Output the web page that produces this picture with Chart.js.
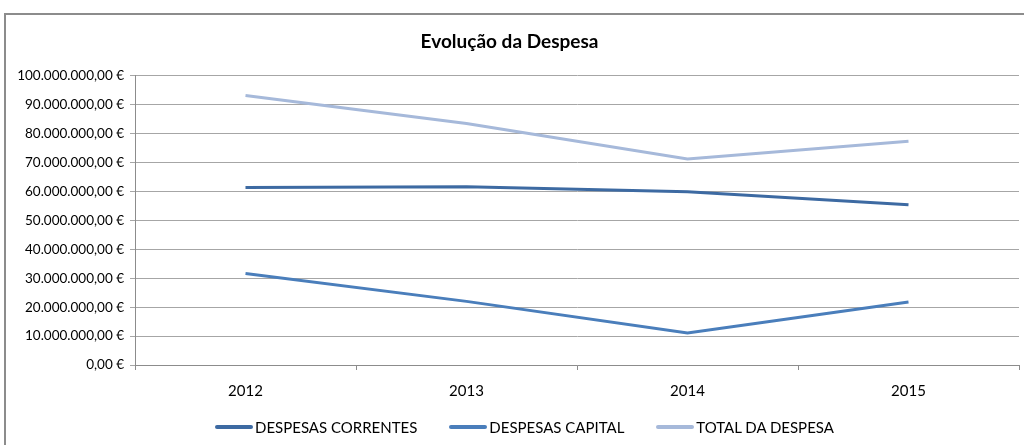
<!DOCTYPE html>
<html>
<head>
<meta charset="utf-8">
<script src="https://cdn.jsdelivr.net/npm/chart.js@4"></script>
<style>
    html, body { margin: 0; padding: 0; background: #fff; overflow: hidden; }
    #wrap { position: relative; width: 1024px; height: 445px; }
    #frame { position: absolute; left: 4px; top: 13px; width: 1030px; height: 440px;
             border: 2px solid #8c8c8c; pointer-events: none; }
    #legenda { position: absolute; left: 215px; top: 417px; height: 20px; display: flex; align-items: center;
               font-family: Lato, "Liberation Sans", sans-serif; font-size: 15px; color: #000; white-space: nowrap; }
    #legenda .item { display: flex; align-items: center; margin-right: 32px; }
    #legenda .linha { width: 38px; height: 4px; border-radius: 2px; margin-right: 2px; }
</style>
</head>
<body>
<div id="wrap">
    <canvas id="chartDespesa" width="1024" height="445"></canvas>
    <div id="frame"></div>
    <div id="legenda"></div>
</div>
<script>
    // Dados (euros)
    const anos = ['2012', '2013', '2014', '2015'];
    const despesasCorrentes = [61400000, 61600000, 59900000, 55400000];
    const despesasCapital = [31600000, 22000000, 11100000, 21800000];
    const totalDespesa = [93200000, 83500000, 71200000, 77400000];
    const yTicks = [0, 10000000, 20000000, 30000000, 40000000, 50000000, 60000000, 70000000, 80000000, 90000000, 100000000];

    const FONT = 'Lato, "Liberation Sans", sans-serif';

    function euro(v) {
        const s = Math.round(v).toString().replace(/\B(?=(\d{3})+(?!\d))/g, '.');
        return s + ',00 €';
    }

    const ctx = document.getElementById('chartDespesa');
    const chart = new Chart(ctx, {
        type: 'line',
        data: {
            labels: anos,
            datasets: [
                { label: 'DESPESAS CORRENTES', data: despesasCorrentes, borderColor: '#3d6aa2', backgroundColor: '#3d6aa2',
                  borderWidth: 3, pointRadius: 0, tension: 0 },
                { label: 'DESPESAS CAPITAL', data: despesasCapital, borderColor: '#4a7ebb', backgroundColor: '#4a7ebb',
                  borderWidth: 3, pointRadius: 0, tension: 0 },
                { label: 'TOTAL DA DESPESA', data: totalDespesa, borderColor: '#a6b9da', backgroundColor: '#a6b9da',
                  borderWidth: 3, pointRadius: 0, tension: 0 }
            ]
        },
        options: {
            responsive: false, animation: false,
            layout: { padding: { left: 0, right: 5, top: 0, bottom: 33 } },
            plugins: {
                title: { display: true, text: 'Evolução da Despesa', color: '#000',
                    font: { family: FONT, size: 19, weight: 'bold' }, padding: { top: 30, bottom: 23 } },
                legend: { display: false },
                tooltip: { enabled: false }
            },
            scales: {
                x: {
                    offset: true,
                    grid: { offset: true, drawOnChartArea: false, drawTicks: true, tickLength: 5, color: '#8c8c8c' },
                    border: { color: '#8c8c8c' },
                    ticks: { color: '#000', font: { family: FONT, size: 15 }, padding: 12 }
                },
                y: {
                    min: 0, max: 100000000,
                    afterBuildTicks: axis => { axis.ticks = yTicks.map(v => ({ value: v })); },
                    afterFit: axis => { axis.width = 135; },
                    grid: { color: '#a6a6a6', tickLength: 5 },
                    border: { color: '#8c8c8c' },
                    ticks: { color: '#000', font: { family: FONT, size: 13.5 }, padding: 6, callback: v => euro(v) }
                }
            }
        }
    });

    // Legenda em HTML (a partir dos datasets)
    const legenda = document.getElementById('legenda');
    chart.data.datasets.forEach(ds => {
        const item = document.createElement('div');
        item.className = 'item';
        const linha = document.createElement('span');
        linha.className = 'linha';
        linha.style.background = ds.borderColor;
        const txt = document.createElement('span');
        txt.textContent = ds.label;
        item.appendChild(linha);
        item.appendChild(txt);
        legenda.appendChild(item);
    });
</script>
</body>
</html>
